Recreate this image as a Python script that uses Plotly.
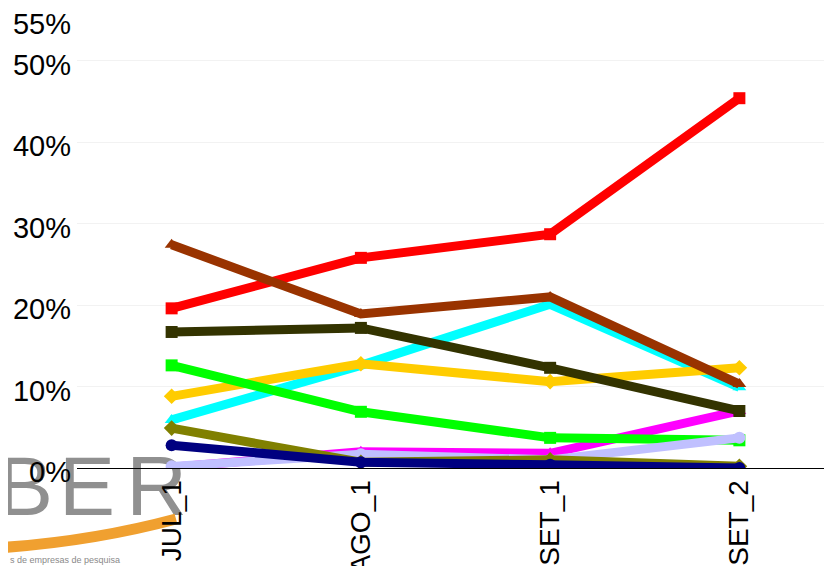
import plotly.graph_objects as go

categories = ["JUL_1", "AGO_1", "SET_1", "SET_2"]

# values in percent, drawing order bottom -> top
serie_cyan = [5.9, 12.6, 20.1, 9.9]
serie_red = [19.6, 25.8, 28.7, 45.4]
serie_yellow = [8.8, 12.8, 10.6, 12.3]
serie_magenta = [0.1, 2.0, 1.8, 7.0]
serie_green = [12.6, 6.9, 3.7, 3.4]
serie_lavender = [0.2, 1.7, 1.0, 3.7]
serie_brown = [27.4, 18.9, 21.0, 10.3]
serie_darkolive = [16.7, 17.2, 12.3, 7.0]
serie_olive = [4.9, 0.7, 1.0, 0.2]
serie_navy = [2.8, 0.7, 0.4, 0.0]

y_ticks = [0, 10, 20, 30, 40, 50, 55]
y_tick_labels = ["0%", "10%", "20%", "30%", "40%", "50%", "55%"]

series = [
    ("Série 1", serie_cyan, "#00FFFF", "triangle-up"),
    ("Série 2", serie_red, "#FF0000", "square"),
    ("Série 3", serie_yellow, "#FFCC00", "diamond"),
    ("Série 4", serie_magenta, "#FF00FF", "triangle-up"),
    ("Série 5", serie_green, "#00FF00", "square"),
    ("Série 6", serie_lavender, "#C0C0FF", "circle"),
    ("Série 7", serie_brown, "#993300", "triangle-up"),
    ("Série 8", serie_darkolive, "#333300", "square"),
    ("Série 9", serie_olive, "#808000", "diamond"),
    ("Série 10", serie_navy, "#000080", "circle"),
]

fig = go.Figure()
for name, vals, col, sym in series:
    fig.add_trace(go.Scatter(
        x=categories, y=vals, name=name, mode="lines+markers",
        line=dict(color=col, width=9),
        marker=dict(color=col, symbol=sym, size=12),
    ))

# page has an 8px body margin: figure origin sits at window (8, 8)
OFF = 8
W, H = 832, 566
ML, MR, MT, MB = 69, 6, 12, 106
PW, PH = W - ML - MR, H - MT - MB


def px(x):
    return (x - OFF - ML) / PW


def py(y):
    return (H - MB - (y - OFF)) / PH


shapes = []
# logo letters (partially visible logo behind the axis labels)
for letter, x0, x1 in [("B", 6, 44), ("E", 68, 106), ("R", 137, 176)]:
    shapes.append(dict(
        type="rect", xref="paper", yref="paper",
        x0=px(x0), x1=px(x1), y0=py(514), y1=py(442),
        line=dict(width=0), fillcolor="rgba(0,0,0,0)", layer="below",
        label=dict(text=letter, font=dict(size=84, color="#909090",
                                          family="Liberation Sans Narrow, Liberation Sans"),
                   textposition="middle center"),
    ))
# orange swoosh
path = "M {:.4f},{:.4f} Q {:.4f},{:.4f} {:.4f},{:.4f}".format(
    px(-5), py(548), px(90), py(542), px(176), py(519))
shapes.append(dict(type="path", xref="paper", yref="paper", path=path,
                   line=dict(color="#F0A030", width=11), layer="below"))

fig.update_layout(
    width=W, height=H,
    margin=dict(l=ML, r=MR, t=MT, b=MB, pad=0, autoexpand=False),
    paper_bgcolor="white", plot_bgcolor="white",
    showlegend=False,
    font=dict(family="Liberation Sans, Arial", color="black"),
    shapes=shapes,
    annotations=[dict(text="s de empresas de pesquisa", xref="paper", yref="paper",
                      x=px(8), y=py(553), xanchor="left", yanchor="top",
                      showarrow=False, font=dict(size=9, color="#8a8a8a"))],
    xaxis=dict(
        range=[-0.5, 3.5], tickangle=-90, tickfont=dict(size=28),
        showgrid=False, showline=True, linecolor="black", linewidth=1,
        ticks="", zeroline=False, automargin=False, ticklabeloverflow="allow",
    ),
    yaxis=dict(
        range=[0, 55], tickmode="array", tickvals=y_ticks, ticktext=y_tick_labels,
        tickfont=dict(size=29), showgrid=True, gridcolor="#F2F2F2", gridwidth=1,
        zeroline=False, showline=False, ticks="", automargin=False,
        ticklabeloverflow="allow", ticklabelstandoff=5, ticklabelshift=4,
    ),
)

fig.write_html("out.html")
